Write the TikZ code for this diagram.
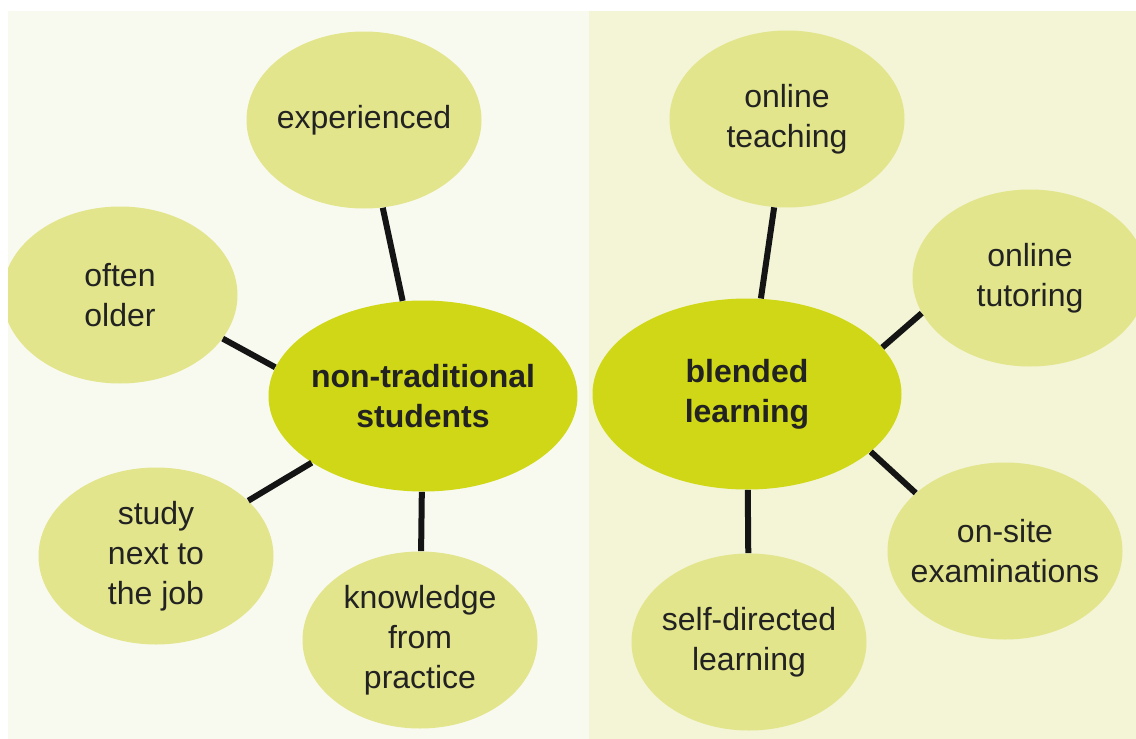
\documentclass[tikz,border=0pt]{standalone}
\usepackage{fontspec}
\setmainfont{Liberation Sans}
\usetikzlibrary{shapes.geometric}
\definecolor{leftbg}{HTML}{F8FAF0}
\definecolor{rightbg}{HTML}{F3F5D6}
\definecolor{leaf}{HTML}{E2E58B}
\definecolor{hub}{HTML}{CFD716}
\definecolor{ink}{HTML}{222222}

\begin{document}
\begin{tikzpicture}[x=0.5pt, y=-0.5pt,
    every node/.style={ellipse, inner xsep=-12pt, inner ysep=0pt, align=center, text=ink, font=\fontsize{16}{20}\selectfont},
    leafnode/.style={fill=leaf, minimum width=117.5pt, minimum height=88.5pt},
    hubnode/.style={fill=hub, minimum width=154.5pt, minimum height=95.5pt, font=\fontsize{16}{20}\selectfont\bfseries},
    link/.style={line width=3pt, black!92}]
    \useasboundingbox (0,0) rectangle (1136,739);
    \fill[white] (0,0) rectangle (1136,739);
    \fill[leftbg] (8,11) rectangle (589,739);
    \fill[rightbg] (589,11) rectangle (1136,739);

    \begin{scope}
        \clip (8,11) rectangle (1136,739);

        % Non-traditional students
        \node[hubnode] (nts) at (423,396) {non-traditional\\students};
        \node[leafnode] (exp) at (364,120) {experienced};
        \node[leafnode] (older) at (120,295) {often\\older};
        \node[leafnode] (study) at (156,556) {study\\next to\\the job};
        \node[leafnode] (know) at (420,640) {knowledge\\from\\practice};

        \draw[link] (exp) -- (nts);
        \draw[link] (older.-23) -- (nts.169);
        \draw[link] (study) -- (nts);
        \draw[link] (know) -- (nts);

        % Blended learning
        \node[hubnode] (blend) at (747,394) {blended\\learning};
        \node[leafnode] (teach) at (787,119) {online\\teaching};
        \node[leafnode] (tutor) at (1030,278) {online\\tutoring};
        \node[leafnode] (onsite) at (1005,551) {on-site\\examinations};
        \node[leafnode] (selfdir) at (749,642) {self-directed\\learning};

        \draw[link] (teach) -- (blend);
        \draw[link] (tutor.-162) -- (blend.19);
        \draw[link] (onsite.147) -- (blend.-25);
        \draw[link] (selfdir) -- (blend);
    \end{scope}
\end{tikzpicture}
\end{document}
